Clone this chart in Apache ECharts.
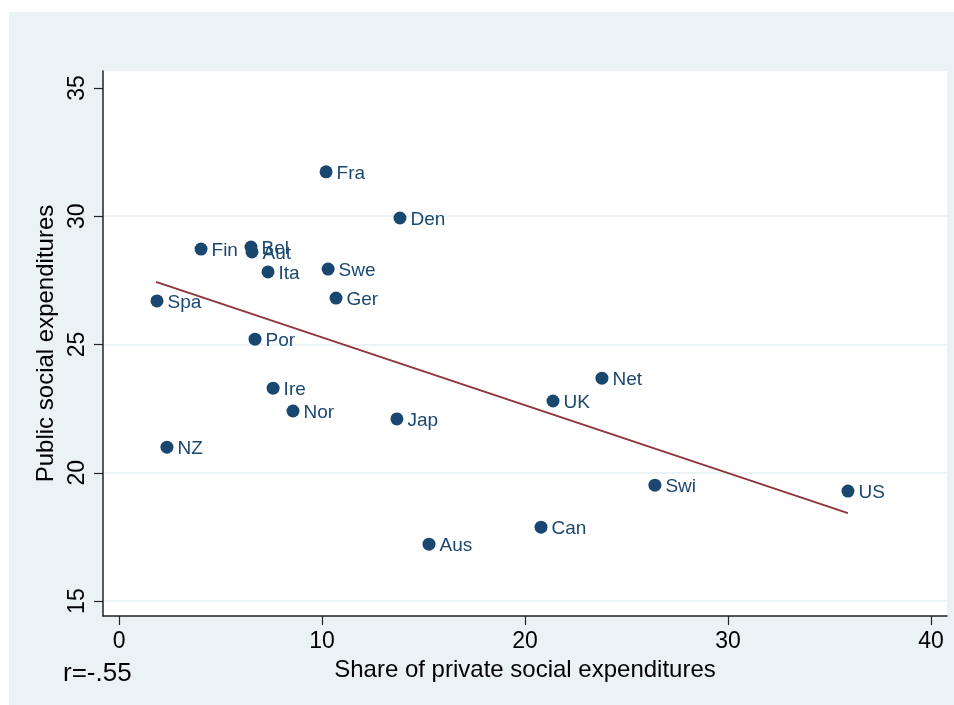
<!DOCTYPE html>
<html>
<head>
<meta charset="utf-8">
<script src="https://cdn.jsdelivr.net/npm/echarts@6/dist/echarts.min.js"></script>
<style>
  html, body { margin: 0; padding: 0; background: #fff; }
  #chart { width: 954px; height: 705px; }
</style>
</head>
<body>
<div id="chart"></div>
<script>
// countries and their values
const countries = ["Fra", "Den", "Fin", "Bel", "Aut", "Ita", "Swe", "Ger", "Spa", "Por",
  "Ire", "Nor", "Jap", "NZ", "Aus", "Net", "UK", "Swi", "US", "Can"]
const privateShare = [10.2, 13.84, 4.04, 6.5, 6.55, 7.34, 10.3, 10.69, 1.87, 6.7,
  7.59, 8.57, 13.69, 2.36, 15.27, 23.79, 21.38, 26.4, 35.91, 20.79]
const publicExp = [31.73, 29.93, 28.72, 28.8, 28.61, 27.83, 27.94, 26.81, 26.7, 25.21,
  23.3, 22.41, 22.1, 21.0, 17.22, 23.69, 22.8, 19.52, 19.29, 17.88]
// fitted line end points
const fitX = [1.82, 35.91]
const fitY = [27.44, 18.43]
// tick labels
const xTicks = [0, 10, 20, 30, 40]
const yTicks = [15, 20, 25, 30, 35]
const yGrid = [15, 20, 25, 30]

const FONT = "Liberation Sans"
const NAVY = "#1a476f"

const chart = echarts.init(document.getElementById("chart"))

const option = {
  animation: false,
  textStyle: { fontFamily: FONT },
  graphic: [
    {
      type: "rect",
      z: -100,
      shape: { x: 9, y: 12, width: 945, height: 693 },
      style: { fill: "#eaf2f3" },
    },
    {
      type: "text",
      x: 63,
      y: 674,
      style: {
        text: "r=-.55",
        fontFamily: FONT,
        fontSize: 26,
        fill: "#000",
        verticalAlign: "middle",
      },
    },
  ],
  grid: {
    left: 103,
    top: 71,
    right: 7,
    bottom: 89,
    show: true,
    backgroundColor: "#fff",
    borderWidth: 0,
  },
  xAxis: {
    type: "value",
    min: -0.79,
    max: 40.79,
    name: "Share of private social expenditures",
    nameLocation: "middle",
    nameGap: 40,
    nameTextStyle: { fontSize: 24, color: "#000", fontFamily: FONT },
    axisLine: { show: true, onZero: false, lineStyle: { color: "#222", width: 1.5 } },
    axisTick: { show: true, length: 9, customValues: xTicks, lineStyle: { color: "#222", width: 1.2 } },
    axisLabel: { customValues: xTicks, fontSize: 23, color: "#000", margin: 14, fontFamily: FONT },
    splitLine: { show: false },
  },
  yAxis: [
    {
      type: "value",
      min: 14.42,
      max: 35.66,
      name: "Public social expenditures",
      nameLocation: "middle",
      nameGap: 40,
      nameTextStyle: { fontSize: 24, color: "#000", fontFamily: FONT },
      axisLine: { show: true, onZero: false, lineStyle: { color: "#222", width: 1.5 } },
      axisTick: { show: true, length: 9, customValues: yTicks, lineStyle: { color: "#222", width: 1.2 } },
      axisLabel: { customValues: yTicks, rotate: 90, fontSize: 23, color: "#000", margin: 14, fontFamily: FONT },
      splitLine: { show: false },
    },
    {
      type: "value",
      min: 14.42,
      max: 35.66,
      position: "left",
      axisLine: { show: false },
      axisTick: { show: false, customValues: yGrid },
      axisLabel: { show: false },
      splitLine: { show: true, lineStyle: { color: "#e6eff1", width: 1.5 } },
    },
  ],
  series: [
    {
      type: "line",
      yAxisIndex: 0,
      data: fitX.map((x, i) => [x, fitY[i]]),
      symbol: "none",
      lineStyle: { color: "#90353b", width: 2 },
      z: 2,
    },
    {
      type: "scatter",
      yAxisIndex: 0,
      symbolSize: 13,
      itemStyle: { color: NAVY, opacity: 1 },
      label: {
        show: true,
        position: "right",
        distance: 4,
        offset: [0, 2],
        formatter: "{b}",
        color: NAVY,
        fontSize: 19,
        fontFamily: FONT,
      },
      data: countries.map((c, i) => ({ name: c, value: [privateShare[i], publicExp[i]] })),
      z: 3,
    },
  ],
}

chart.setOption(option)
</script>
</body>
</html>
